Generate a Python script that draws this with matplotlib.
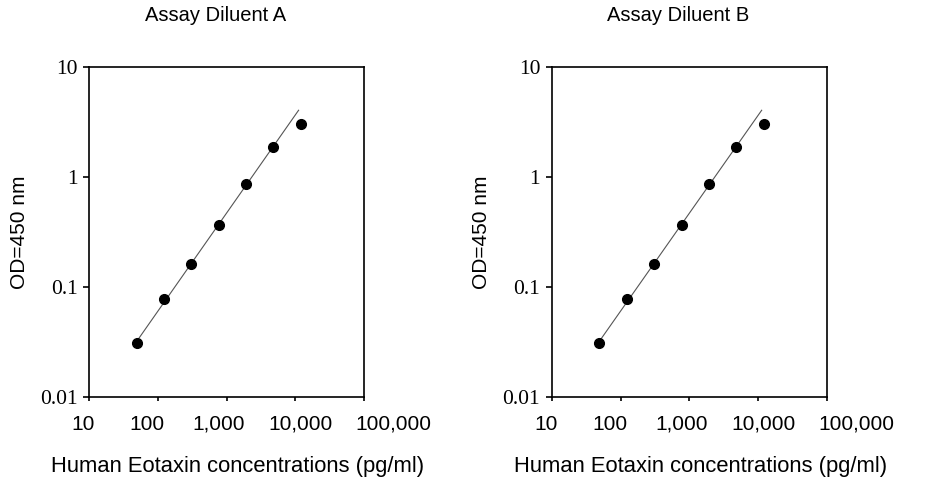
import numpy as np
import matplotlib
matplotlib.use("Agg")
import matplotlib.pyplot as plt
import matplotlib.transforms as mtransforms
from matplotlib.ticker import FixedLocator, NullLocator

# Standard curve data
conc = [49.2, 122.9, 307.2, 768, 1920, 4800, 12000]
od_a = [0.0311, 0.0775, 0.161, 0.366, 0.863, 1.87, 3.04]
od_b = [0.0311, 0.0775, 0.161, 0.366, 0.863, 1.87, 3.04]
titles = ["Assay Diluent A", "Assay Diluent B"]
x_ticks = [10, 100, 1000, 10000, 100000]
x_tick_labels = ["10", "100", "1,000", "10,000", "100,000"]
y_ticks = [0.01, 0.1, 1, 10]
y_tick_labels = ["0.01", "0.1", "1", "10"]

# the original places the x tick labels a bit off the ticks (pixels)
label_shift = [-6, -11, -8, 5, 29]

sans = ["Liberation Sans", "DejaVu Sans"]
serif = ["Liberation Serif", "DejaVu Serif"]

fig = plt.figure(figsize=(9.26, 4.8), dpi=100)
axes = [fig.add_axes([0.0964, 0.1723, 0.2967, 0.6888]),
        fig.add_axes([0.5958, 0.1723, 0.2976, 0.6888])]

for ax, od, title in zip(axes, [od_a, od_b], titles):
    x = np.array(conc)
    y = np.array(od)
    # straight line fit in log-log space (top point saturates, left out)
    k, b = np.polyfit(np.log10(x[:-1]), np.log10(y[:-1]), 1)
    xf = np.array([x.min(), x.max() * 0.93])
    ax.plot(xf, 10 ** (k * np.log10(xf) + b), color="#555555", lw=0.8, zorder=2)
    ax.plot(x, y, "o", color="black", ms=7, zorder=3)

    ax.set_xscale("log")
    ax.set_yscale("log")
    ax.set_xlim(10, 100000)
    ax.set_ylim(0.01, 10)
    ax.xaxis.set_major_locator(FixedLocator(x_ticks))
    ax.yaxis.set_major_locator(FixedLocator(y_ticks))
    ax.xaxis.set_minor_locator(NullLocator())
    ax.yaxis.set_minor_locator(NullLocator())
    ax.set_xticklabels(x_tick_labels, fontsize=15, family=sans)
    ax.set_yticklabels(y_tick_labels, fontsize=15.5, family=serif)
    ax.tick_params(axis="x", direction="out", length=3, width=1.2, pad=9.5)
    ax.tick_params(axis="y", direction="out", length=4.3, width=1.2, pad=4)
    for s in ax.spines.values():
        s.set_linewidth(1.2)

    for lab, dx in zip(ax.get_xticklabels(), label_shift):
        off = mtransforms.ScaledTranslation(dx / 100, 0, fig.dpi_scale_trans)
        lab.set_transform(lab.get_transform() + off)

    ax.set_title(title, fontsize=14.5, family=sans, pad=33, x=0.46)
    ax.set_xlabel("Human Eotaxin concentrations (pg/ml)", fontsize=15.8,
                  family=sans, labelpad=16, x=0.54)
    ax.set_ylabel("OD=450 nm", fontsize=15, family=sans, labelpad=8)

fig.savefig("out.png", dpi=100)
